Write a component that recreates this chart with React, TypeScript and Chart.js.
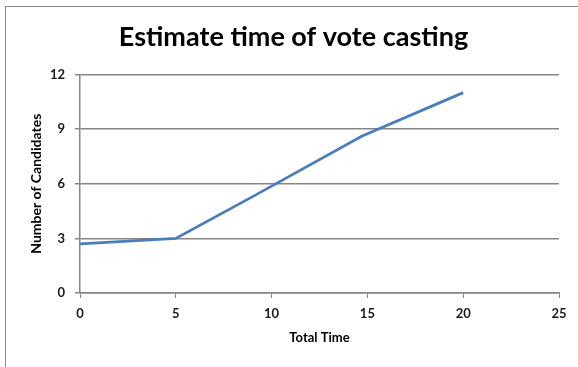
import React, { useEffect, useRef } from "react";
import { Chart, registerables } from "chart.js";

Chart.register(...registerables);

const titleText = "Estimate time of vote casting";
const xTitle = "Total Time";
const yTitle = "Number of Candidates";
const timeValues = [0, 5, 9.2, 14.7, 20];
const candidateValues = [2.7, 3, 5.4, 8.6, 11];
const xTicks = [0, 5, 10, 15, 20, 25];
const yTicks = [0, 3, 6, 9, 12];

export default function App() {
  const ref = useRef<HTMLCanvasElement | null>(null);
  useEffect(() => {
    document.body.style.margin = "0";
    const ctx = ref.current!;
    const font = "Lato, 'Open Sans', sans-serif";
    const chart = new Chart(ctx, {
      type: "scatter",
      data: {
        datasets: [
          {
            data: timeValues.map((x, i) => ({ x, y: candidateValues[i] })),
            showLine: true,
            borderColor: "#4a7ebb",
            backgroundColor: "#4a7ebb",
            borderWidth: 2.75,
            pointRadius: 0,
            tension: 0,
          },
        ],
      },
      options: {
        animation: false,
        responsive: false,
        layout: { padding: { left: 28, right: 19, top: 0, bottom: 0 } },
        plugins: {
          legend: { display: false },
          tooltip: { enabled: false },
          title: {
            display: true,
            text: titleText,
            color: "#000",
            font: { family: font, size: 27, weight: "bold", lineHeight: 1.2 },
            padding: { top: 21, bottom: 21 },
          },
        },
        scales: {
          x: {
            type: "linear",
            min: 0,
            max: 25,
            afterFit: (s: any) => {
              s.height = 74;
            },
            afterBuildTicks: (s: any) => {
              s.ticks = xTicks.map((v) => ({ value: v }));
            },
            border: { display: true, color: "#868686", width: 1.5 },
            grid: { color: "transparent", tickColor: "#868686", tickLength: 5, drawOnChartArea: false },
            ticks: { color: "#1a1a1a", padding: 8, font: { family: font, size: 13, weight: "bold" } },
            title: {
              display: true,
              text: xTitle,
              color: "#000",
              font: { family: font, size: 13, weight: "bold", lineHeight: 1.2 },
              padding: { top: 0, bottom: 21 },
            },
          },
          y: {
            type: "linear",
            min: 0,
            max: 12,
            afterFit: (s: any) => {
              s.width = 52;
            },
            afterBuildTicks: (s: any) => {
              s.ticks = yTicks.map((v) => ({ value: v }));
            },
            border: { display: true, color: "#868686", width: 1.5 },
            grid: { color: "#868686", lineWidth: 1.5, tickColor: "#868686", tickLength: 5 },
            ticks: { color: "#1a1a1a", padding: 10, font: { family: font, size: 13, weight: "bold" } },
            title: {
              display: true,
              text: yTitle,
              color: "#000",
              font: { family: font, size: 14, weight: "bold", lineHeight: 1.2 },
              padding: { top: 0, bottom: 0 },
            },
          },
        },
      },
    } as any);
    return () => chart.destroy();
  }, []);
  return (
    <div style={{ position: "absolute", left: 0, top: 0, width: 578, height: 367, background: "#fff", overflow: "hidden" }}>
      <canvas ref={ref} width={578} height={367} style={{ position: "absolute", left: 0, top: 0 }} />
      <div
        style={{
          position: "absolute",
          left: 5,
          top: 6,
          width: 700,
          height: 500,
          border: "1.5px solid #8a8a8a",
          boxSizing: "border-box",
          pointerEvents: "none",
        }}
      />
    </div>
  );
}
